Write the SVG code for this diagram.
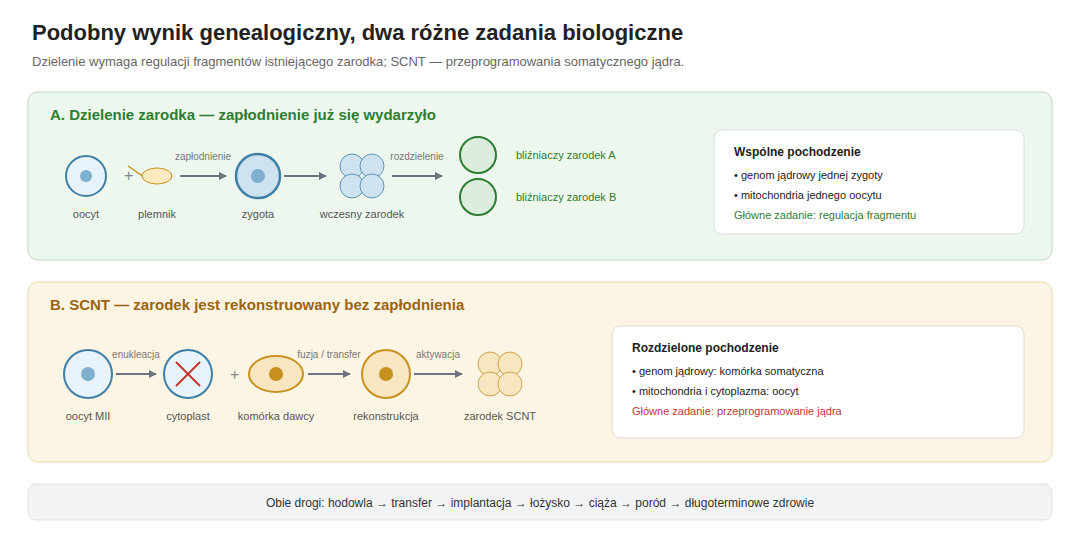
<svg xmlns="http://www.w3.org/2000/svg" width="1080" height="540" viewBox="0 0 1080 540">
<style>
text{font-family:"Liberation Sans",Arial,sans-serif}
.lbl{font-size:11px;fill:#555;text-anchor:middle}
.sm{font-size:10px;fill:#777;text-anchor:middle}
.arr{stroke:#6b7280;stroke-width:2;fill:none;marker-end:url(#ah)}
.bul{font-size:11px;fill:#222}
</style>
<defs><marker id="ah" viewBox="0 0 10 10" refX="9" refY="5" markerWidth="8" markerHeight="8" markerUnits="userSpaceOnUse" orient="auto"><path d="M0,0L10,5L0,10z" fill="#6b7280"/></marker></defs>
<rect width="1080" height="540" fill="#fff"/>
<text x="32" y="40" font-size="22" font-weight="bold" fill="#222">Podobny wynik genealogiczny, dwa różne zadania biologiczne</text>
<text x="32" y="66" font-size="13" fill="#666">Dzielenie wymaga regulacji fragmentów istniejącego zarodka; SCNT — przeprogramowania somatycznego jądra.</text>
<g id="panelA">
<rect x="28" y="92" width="1024" height="168" rx="10" fill="#edf7ee" stroke="#b9dcbe"/>
<text x="50" y="120" font-size="15" font-weight="bold" fill="#2e7d32">A. Dzielenie zarodka — zapłodnienie już się wydarzyło</text>
</g>
<g id="oocyt"><circle cx="86" cy="176" r="20" fill="#e8f2fb" stroke="#3f7ea6" stroke-width="2"/><circle cx="86" cy="176" r="6" fill="#7fb0d0"/><text class="lbl" x="86" y="218">oocyt</text></g>
<g id="plemnik"><text x="124" y="181" font-size="16" fill="#888">+</text><line x1="128" y1="166" x2="144" y2="177" stroke="#c8901e" stroke-width="1.5"/><ellipse cx="157" cy="176" rx="15" ry="8" fill="#fde9bf" stroke="#c8901e"/><text class="lbl" x="157" y="218">plemnik</text></g>
<g id="zygota"><circle cx="258" cy="176" r="22" fill="#cfe2f0" stroke="#3f7ea6" stroke-width="2.5"/><circle cx="258" cy="176" r="7" fill="#7fb0d0"/><text class="lbl" x="258" y="218">zygota</text></g>
<g id="wczesny"><circle cx="352" cy="166" r="12" fill="#cfe2f0" stroke="#5f93b8"/><circle cx="372" cy="166" r="12" fill="#cfe2f0" stroke="#5f93b8"/><circle cx="352" cy="186" r="12" fill="#cfe2f0" stroke="#5f93b8"/><circle cx="372" cy="186" r="12" fill="#cfe2f0" stroke="#5f93b8"/><text class="lbl" x="362" y="218">wczesny zarodek</text></g>
<g id="blizA"><circle cx="478" cy="155" r="18" fill="#dcedde" stroke="#2e7d32" stroke-width="2"/><text x="516" y="159" font-size="11" fill="#2e7d32">bliźniaczy zarodek A</text></g>
<g id="blizB"><circle cx="478" cy="197" r="18" fill="#dcedde" stroke="#2e7d32" stroke-width="2"/><text x="516" y="201" font-size="11" fill="#2e7d32">bliźniaczy zarodek B</text></g>
<g id="boxA"><rect x="714" y="130" width="310" height="104" rx="8" fill="#fff" stroke="#d8dde2"/><text x="734" y="156" font-size="12" font-weight="bold" fill="#222">Wspólne pochodzenie</text><text class="bul" x="734" y="179">• genom jądrowy jednej zygoty</text><text class="bul" x="734" y="199">• mitochondria jednego oocytu</text><text x="734" y="219" font-size="11" fill="#2e7d32">Główne zadanie: regulacja fragmentu</text></g>
<g id="panelB">
<rect x="28" y="282" width="1024" height="180" rx="10" fill="#fdf5e3" stroke="#edd9a6"/>
<text x="50" y="310" font-size="15" font-weight="bold" fill="#9a6410">B. SCNT — zarodek jest rekonstruowany bez zapłodnienia</text>
</g>
<g id="oocytMII"><circle cx="88" cy="374" r="24" fill="#e8f2fb" stroke="#3f7ea6" stroke-width="2"/><circle cx="88" cy="374" r="7" fill="#7fb0d0"/><text class="lbl" x="88" y="420">oocyt MII</text></g>
<g id="cytoplast"><circle cx="188" cy="374" r="24" fill="#e8f2fb" stroke="#3f7ea6" stroke-width="2"/><path d="M176,362L200,386M200,362L176,386" stroke="#c0392b" stroke-width="2"/><text class="lbl" x="188" y="420">cytoplast</text></g>
<g id="dawca"><text x="230" y="380" font-size="16" fill="#888">+</text><ellipse cx="276" cy="374" rx="27" ry="18" fill="#f7e6c0" stroke="#c8901e" stroke-width="2"/><circle cx="276" cy="374" r="7" fill="#c8901e"/><text class="lbl" x="276" y="420">komórka dawcy</text></g>
<g id="rekon"><circle cx="386" cy="374" r="24" fill="#f7e6c0" stroke="#c8901e" stroke-width="2"/><circle cx="386" cy="374" r="7" fill="#c8901e"/><text class="lbl" x="386" y="420">rekonstrukcja</text></g>
<g id="scnt"><circle cx="490" cy="364" r="12" fill="#f7e6c0" stroke="#d4a24a"/><circle cx="510" cy="364" r="12" fill="#f7e6c0" stroke="#d4a24a"/><circle cx="490" cy="384" r="12" fill="#f7e6c0" stroke="#d4a24a"/><circle cx="510" cy="384" r="12" fill="#f7e6c0" stroke="#d4a24a"/><text class="lbl" x="500" y="420">zarodek SCNT</text></g>
<g id="boxB"><rect x="612" y="326" width="412" height="112" rx="8" fill="#fff" stroke="#e4dccb"/><text x="632" y="352" font-size="12" font-weight="bold" fill="#222">Rozdzielone pochodzenie</text><text class="bul" x="632" y="375">• genom jądrowy: komórka somatyczna</text><text class="bul" x="632" y="395">• mitochondria i cytoplazma: oocyt</text><text x="632" y="415" font-size="11" fill="#c0392b">Główne zadanie: przeprogramowanie jądra</text></g>
<g id="connectors">
<line class="arr" x1="180" y1="176" x2="226" y2="176"/><text class="sm" x="203" y="160">zapłodnienie</text>
<line class="arr" x1="284" y1="176" x2="326" y2="176"/>
<line class="arr" x1="392" y1="176" x2="442" y2="176"/><text class="sm" x="417" y="160">rozdzielenie</text>
<line class="arr" x1="116" y1="374" x2="156" y2="374"/><text class="sm" x="136" y="358">enukleacja</text>
<line class="arr" x1="308" y1="374" x2="350" y2="374"/><text class="sm" x="329" y="358">fuzja / transfer</text>
<line class="arr" x1="414" y1="374" x2="462" y2="374"/><text class="sm" x="438" y="358">aktywacja</text>
</g>
<g id="footer"><rect x="28" y="484" width="1024" height="36" rx="8" fill="#f2f3f5" stroke="#dfe2e6"/><text x="540" y="507" font-size="12" fill="#333" text-anchor="middle">Obie drogi: hodowla → transfer → implantacja → łożysko → ciąża → poród → długoterminowe zdrowie</text></g>
</svg>
